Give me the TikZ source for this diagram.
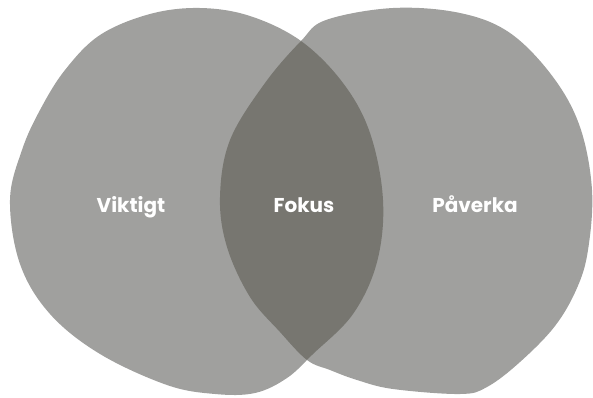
\documentclass[tikz,border=0pt]{standalone}
\usepackage{fontspec}
\newfontfamily\blobfont{Poppins}
\definecolor{blobgrey}{RGB}{160,160,158}
\definecolor{fokusgrey}{RGB}{119,118,112}

\begin{document}
\begin{tikzpicture}[x=1pt, y=-1pt]
  \tikzstyle{blob}=[fill=blobgrey, draw=none]
  \tikzstyle{word}=[text=white, anchor=base, inner sep=0pt, font=\blobfont\bfseries\fontsize{20}{20}\selectfont]

  \useasboundingbox (0,0) rectangle (593,397);

  % the two areas
  \def\leftblob{plot[smooth cycle, tension=0.6] coordinates {
    (200,8) (250,16) (301,41) (343,83) (370,133) (383,200) (377,262)
    (353,314) (313,354) (287,378) (255,393) (215,394) (167,385)
    (100,354) (50,314) (20,264) (10,200) (22,150) (40,110) (65,70)
    (100,35) (150,14)}}
  \def\rightblob{plot[smooth cycle, tension=0.6] coordinates {
    (326,20) (393,8) (460,13) (510,33) (553,77) (580,127) (592,190)
    (588,250) (577,288) (555,326) (520,362) (487,387) (460,394)
    (393,389) (357,380) (330,370) (307,360) (280,332) (250,297)
    (227,247) (220,197) (230,140) (265,83) (301,41)}}

  \path[blob] \leftblob;
  \path[blob] \rightblob;

  % overlap
  \begin{scope}
    \clip \leftblob;
    \fill[fokusgrey] \rightblob;
  \end{scope}

  \node[word] (viktigt) at (131,212) {Viktigt};
  \node[word] (fokus)   at (304,212) {Fokus};
  \node[word] (paverka) at (475,212) {Påverka};
\end{tikzpicture}
\end{document}
